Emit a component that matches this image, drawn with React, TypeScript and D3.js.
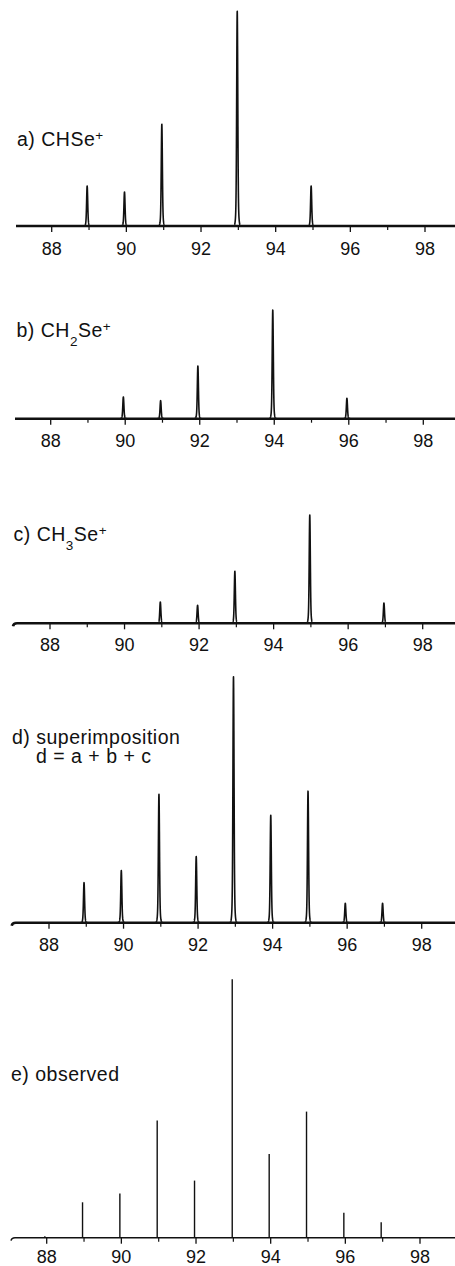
import React, { useEffect, useRef } from 'react';
import * as d3 from 'd3';

const WIDTH = 455;
const HEIGHT = 1266;

// m/z of each peak and its height in % of the biggest peak of the panel
const massA = [88.95, 89.95, 90.95, 92.97, 94.95];
const intensityA = [18.6, 15.8, 47.4, 100, 18.6];

const massB = [89.95, 90.95, 91.95, 93.96, 95.95];
const intensityB = [20, 16.6, 48.5, 100, 18.8];

const massC = [90.96, 91.96, 92.96, 94.97, 96.96];
const intensityC = [19.7, 16.6, 48, 100, 18.7];

const massD = [88.94, 89.94, 90.95, 91.95, 92.95, 93.95, 94.95, 95.95, 96.95];
const intensityD = [16.3, 21.2, 52.2, 26.9, 100, 43.7, 53.5, 7.9, 7.9];

const massE = [87.95, 88.96, 89.96, 90.96, 91.96, 92.97, 93.96, 94.96, 95.96, 96.96];
const intensityE = [0.6, 13.7, 17.1, 45.4, 22.1, 100, 32.4, 48.8, 9.7, 6.0];

const majorTicks = [88, 90, 92, 94, 96, 98];
const minorTicks = [89, 91, 93, 95, 97];

// label pieces: [text, 'n' normal | 'sub' | 'sup']
const labelA = [['a) CHSe', 'n'], ['+', 'sup']];
const labelB = [['b) CH', 'n'], ['2', 'sub'], ['Se', 'n'], ['+', 'sup']];
const labelC = [['c) CH', 'n'], ['3', 'sub'], ['Se', 'n'], ['+', 'sup']];
const labelD1 = [['d) superimposition', 'n']];
const labelD2 = [['d = a + b + c', 'n']];
const labelE = [['e) observed', 'n']];

const FONT = "'Liberation Sans', Arial, Helvetica, sans-serif";

const panels = [
    { mass: massA, intensity: intensityA, axisY: 226, x88: 51.7, x98: 425, top: 11, axisStart: 16, hook: false, sticks: false,
        tickLabelDy: 28.5, labels: [{ parts: labelA, x: 17, y: 145.5 }] },
    { mass: massB, intensity: intensityB, axisY: 418.7, x88: 50.7, x98: 423.3, top: 310, axisStart: 15, hook: false, sticks: false,
        tickLabelDy: 28, labels: [{ parts: labelB, x: 16.5, y: 337 }] },
    { mass: massC, intensity: intensityC, axisY: 623.3, x88: 50, x98: 422.7, top: 515, axisStart: 13, hook: true, sticks: false,
        tickLabelDy: 28, labels: [{ parts: labelC, x: 13.5, y: 541 }] },
    { mass: massD, intensity: intensityD, axisY: 922.7, x88: 49, x98: 421.7, top: 676.7, axisStart: 11.7, hook: true, sticks: false,
        tickLabelDy: 28.5, labels: [{ parts: labelD1, x: 12, y: 743.5 }, { parts: labelD2, x: 36, y: 762.5 }] },
    { mass: massE, intensity: intensityE, axisY: 1237.7, x88: 46.7, x98: 420, top: 979.3, axisStart: 11, hook: true, sticks: true,
        tickLabelDy: 25.5, labels: [{ parts: labelE, x: 11, y: 1080.5 }] },
];

const drawLabel = (g, parts, x, y) => {
    const text = g.append('text')
        .attr('x', x)
        .attr('y', y)
        .attr('font-family', FONT)
        .attr('font-size', 19.5)
        .attr('letter-spacing', 0.5)
        .attr('fill', '#111');
    let shift = 0;
    parts.forEach(([t, kind]) => {
        const target = kind === 'sub' ? 8.5 : kind === 'sup' ? -6 : 0;
        text.append('tspan')
            .attr('dy', target - shift)
            .attr('font-size', kind === 'n' ? 19.5 : 13.5)
            .text(t);
        shift = target;
    });
};

export default function App() {
    const ref = useRef(null);

    useEffect(() => {
        const svg = d3.select(ref.current);
        svg.selectAll('*').remove();

        panels.forEach((p) => {
            const g = svg.append('g');
            const x = d3.scaleLinear().domain([88, 98]).range([p.x88, p.x98]);
            const y = d3.scaleLinear().domain([0, 100]).range([p.axisY, p.top]);

            // axis line (with a little hook at the start for some panels)
            const axisPath = d3.path();
            if (p.hook) {
                axisPath.moveTo(p.axisStart, p.axisY + 3);
                axisPath.quadraticCurveTo(p.axisStart + 0.5, p.axisY, p.axisStart + 4, p.axisY);
            } else {
                axisPath.moveTo(p.axisStart, p.axisY);
            }
            axisPath.lineTo(WIDTH + 5, p.axisY);
            g.append('path')
                .attr('d', axisPath.toString())
                .attr('fill', 'none')
                .attr('stroke', '#111')
                .attr('stroke-width', p.sticks ? 1.4 : 2.6);

            // ticks pointing down
            g.selectAll('.major')
                .data(majorTicks)
                .enter()
                .append('line')
                .attr('x1', d => x(d))
                .attr('x2', d => x(d))
                .attr('y1', p.axisY)
                .attr('y2', p.axisY + 6)
                .attr('stroke', '#111')
                .attr('stroke-width', 1.3);
            g.selectAll('.minor')
                .data(minorTicks)
                .enter()
                .append('line')
                .attr('x1', d => x(d))
                .attr('x2', d => x(d))
                .attr('y1', p.axisY)
                .attr('y2', p.axisY + 4)
                .attr('stroke', '#111')
                .attr('stroke-width', 1.2);

            g.selectAll('.tick-label')
                .data(majorTicks)
                .enter()
                .append('text')
                .attr('x', d => x(d))
                .attr('y', p.axisY + p.tickLabelDy)
                .attr('text-anchor', 'middle')
                .attr('font-family', FONT)
                .attr('font-size', 18)
                .attr('fill', '#111')
                .text(d => d);

            if (p.sticks) {
                g.selectAll('.stick')
                    .data(p.mass)
                    .enter()
                    .append('line')
                    .attr('x1', d => x(d))
                    .attr('x2', d => x(d))
                    .attr('y1', p.axisY)
                    .attr('y2', (d, i) => y(p.intensity[i]))
                    .attr('stroke', '#111')
                    .attr('stroke-width', 1.4);
            } else {
                // narrow peak profile: sharp core plus a small, slightly wider skirt
                const sigma = 0.014;
                const shape = (dm) => 0.85 * Math.exp(-(dm * dm) / (2 * sigma * sigma))
                    + 0.15 * Math.exp(-(dm * dm) / (2 * 4 * sigma * sigma));
                const points = d3.range(x.invert(p.axisStart + 4), x.invert(WIDTH + 5), 0.002).map(m => {
                    let v = 0;
                    p.mass.forEach((c, i) => {
                        const dm = m - c;
                        if (Math.abs(dm) < 0.3) v += p.intensity[i] * shape(dm);
                    });
                    return [m, v];
                });
                const line = d3.line().x(d => x(d[0])).y(d => y(d[1]));
                g.append('path')
                    .attr('d', line(points))
                    .attr('fill', 'none')
                    .attr('stroke', '#111')
                    .attr('stroke-width', 1.6)
                    .attr('stroke-linejoin', 'round');
            }

            p.labels.forEach(l => drawLabel(g, l.parts, l.x, l.y));
        });
    }, []);

    return (
        <svg
            ref={ref}
            width={WIDTH}
            height={HEIGHT}
            style={{ position: 'absolute', left: 0, top: 0, background: '#fff', display: 'block' }}
        />
    );
}
